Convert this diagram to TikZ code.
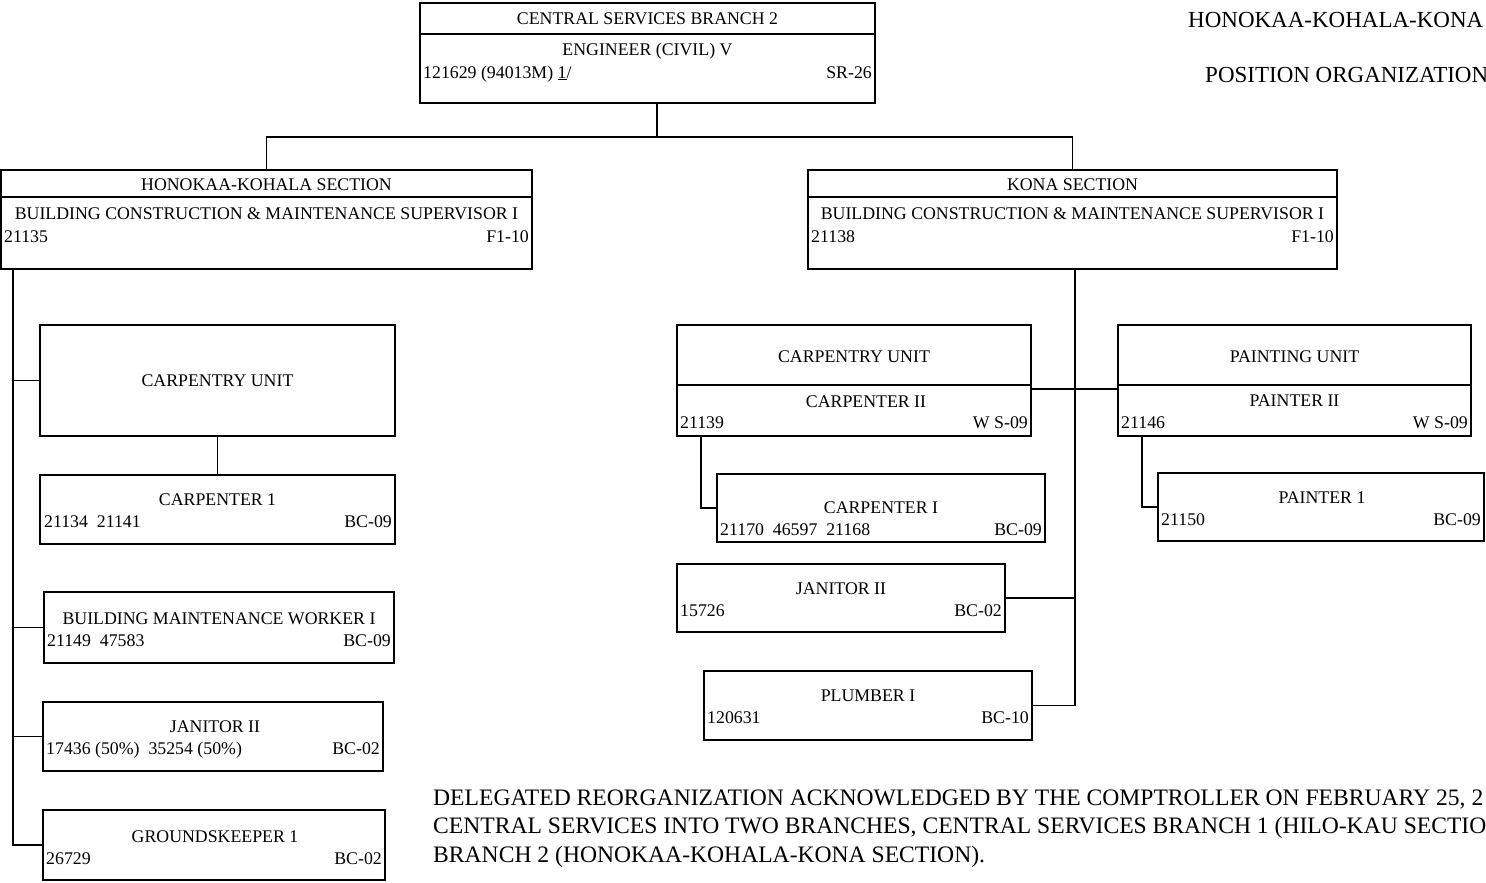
\documentclass[tikz,border=0pt]{standalone}
\usepackage{fontspec}
\setmainfont{Liberation Serif}
\begin{document}
\begin{tikzpicture}[x=1pt,y=-1pt,
  box/.style={draw,line width=1.3pt,inner sep=0,outer sep=0,rectangle},
  ln/.style={line width=1.2pt},
  t/.style={font=\fontsize{17.8}{17.8}\selectfont,inner sep=0},
  big/.style={font=\fontsize{23}{23}\selectfont,inner sep=0,anchor=base west},
  foot/.style={font=\fontsize{23.6}{23.6}\selectfont,inner sep=0,anchor=base west}]
\useasboundingbox (0,0) rectangle (1486,883);
\clip (0,0) rectangle (1486,883);
\fill[white] (0,0) rectangle (1486,883);
\newcommand\bx[5]{\node[box,minimum width={#4-#2},minimum height={#5-#3}] (#1) at ({(#2+#4)/2},{(#3+#5)/2}) {};}
\newcommand\ct[3]{\node[t,anchor=base] at (#1,#2) {#3};}
\newcommand\lt[3]{\node[t,anchor=base west] at (#1,#2) {#3};}
\newcommand\rt[3]{\node[t,anchor=base east] at (#1,#2) {#3};}

% title
\node[big] (ti1) at (1188,28) {HONOKAA-KOHALA-KONA};
\node[big] (ti2) at (1205,83) {POSITION ORGANIZATION};

% top box
\bx{top}{420}{3}{875}{103}
\draw[ln] (420,34) -- (875,34);
\ct{647.5}{25}{CENTRAL SERVICES BRANCH 2}
\ct{647.5}{56}{ENGINEER (CIVIL) V}
\lt{423}{78}{121629 (94013M) \underline{1}/}
\rt{872}{78}{SR-26}

% sections
\bx{hk}{1}{170}{532}{269}
\draw[ln] (1,197) -- (532,197);
\ct{266.5}{190}{HONOKAA-KOHALA SECTION}
\ct{266.5}{219}{BUILDING CONSTRUCTION \& MAINTENANCE SUPERVISOR I}
\lt{4}{242}{21135}
\rt{529}{242}{F1-10}

\bx{kona}{808}{170}{1337}{269}
\draw[ln] (808,197) -- (1337,197);
\ct{1072.5}{190}{KONA SECTION}
\ct{1072.5}{219}{BUILDING CONSTRUCTION \& MAINTENANCE SUPERVISOR I}
\lt{811}{242}{21138}
\rt{1334}{242}{F1-10}

% left column
\bx{lcu}{40}{325}{395}{436}
\ct{217.5}{386}{CARPENTRY UNIT}
\bx{lc1}{40}{475}{395}{544}
\ct{217.5}{505}{CARPENTER 1}
\lt{44}{527}{21134\ \ 21141}
\rt{392}{527}{BC-09}
\bx{bmw}{44}{592}{394}{663}
\ct{219}{624}{BUILDING MAINTENANCE WORKER I}
\lt{47}{646}{21149\ \ 47583}
\rt{391}{646}{BC-09}
\bx{jl}{43}{702}{383}{771}
\ct{215}{732}{JANITOR II}
\lt{46}{754}{17436 (50\%)\ \ 35254 (50\%)}
\rt{380}{754}{BC-02}
\bx{gk}{43}{810}{385}{880}
\ct{215}{842}{GROUNDSKEEPER 1}
\lt{46}{864}{26729}
\rt{382}{864}{BC-02}

% right side
\bx{kcu}{677}{325}{1031}{436}
\draw[ln] (677,385) -- (1031,385);
\ct{854}{362}{CARPENTRY UNIT}
\ct{866}{407}{CARPENTER II}
\lt{680}{428}{21139}
\rt{1028}{428}{W S-09}
\bx{kc1}{717}{474}{1045}{542}
\ct{881}{513}{CARPENTER I}
\lt{720}{535}{21170\ \ 46597\ \ 21168}
\rt{1042}{535}{BC-09}
\bx{pu}{1118}{325}{1471}{436}
\draw[ln] (1118,385) -- (1471,385);
\ct{1294.5}{362}{PAINTING UNIT}
\ct{1294.5}{406}{PAINTER II}
\lt{1121}{428}{21146}
\rt{1468}{428}{W S-09}
\bx{p1}{1158}{473}{1484}{541}
\ct{1322}{503}{PAINTER 1}
\lt{1161}{525}{21150}
\rt{1481}{525}{BC-09}
\bx{jk}{677}{564}{1005}{632}
\ct{841}{594}{JANITOR II}
\lt{680}{616}{15726}
\rt{1002}{616}{BC-02}
\bx{plm}{704}{671}{1032}{740}
\ct{868}{701}{PLUMBER I}
\lt{707}{723}{120631}
\rt{1029}{723}{BC-10}

% connectors
\coordinate (j) at (657,137);
\draw[ln] (top.south -| j) -- (j);
\draw[ln] (hk.north) |- (j) -| (kona.north);
\coordinate (ltr) at (13,845);
\draw[ln] (hk.south -| ltr) |- (gk.west);
\draw[ln] (ltr |- lcu.west) -- (lcu.west);
\draw[ln] (ltr |- bmw.west) -- (bmw.west);
\draw[ln] (ltr |- jl.west) -- (jl.west);
\draw[ln] (lcu.south) -- (lc1.north);
\coordinate (ktr) at (1075,705);
\draw[ln] (kona.south -| ktr) |- (plm.east);
\draw[ln] (ktr |- jk.east) -- (jk.east);
\coordinate (hy) at (0,389);
\draw[ln] (kcu.east |- hy) -- (pu.west |- hy);
\coordinate (kcx) at (701,0);
\draw[ln] (kcu.south -| kcx) |- (kc1.west);
\coordinate (pux) at (1142,0);
\draw[ln] (pu.south -| pux) |- (p1.west);

% footnote (cut by the right edge, as in the reference)
\node[foot] (f1) at (433,805) {DELEGATED REORGANIZATION ACKNOWLEDGED BY THE COMPTROLLER ON FEBRUARY 25, 2};
\node[foot] (f2) at (433,833) {CENTRAL SERVICES INTO TWO BRANCHES, CENTRAL SERVICES BRANCH 1 (HILO-KAU SECTION};
\node[foot] (f3) at (433,862) {BRANCH 2 (HONOKAA-KOHALA-KONA SECTION).};
\end{tikzpicture}
\end{document}
